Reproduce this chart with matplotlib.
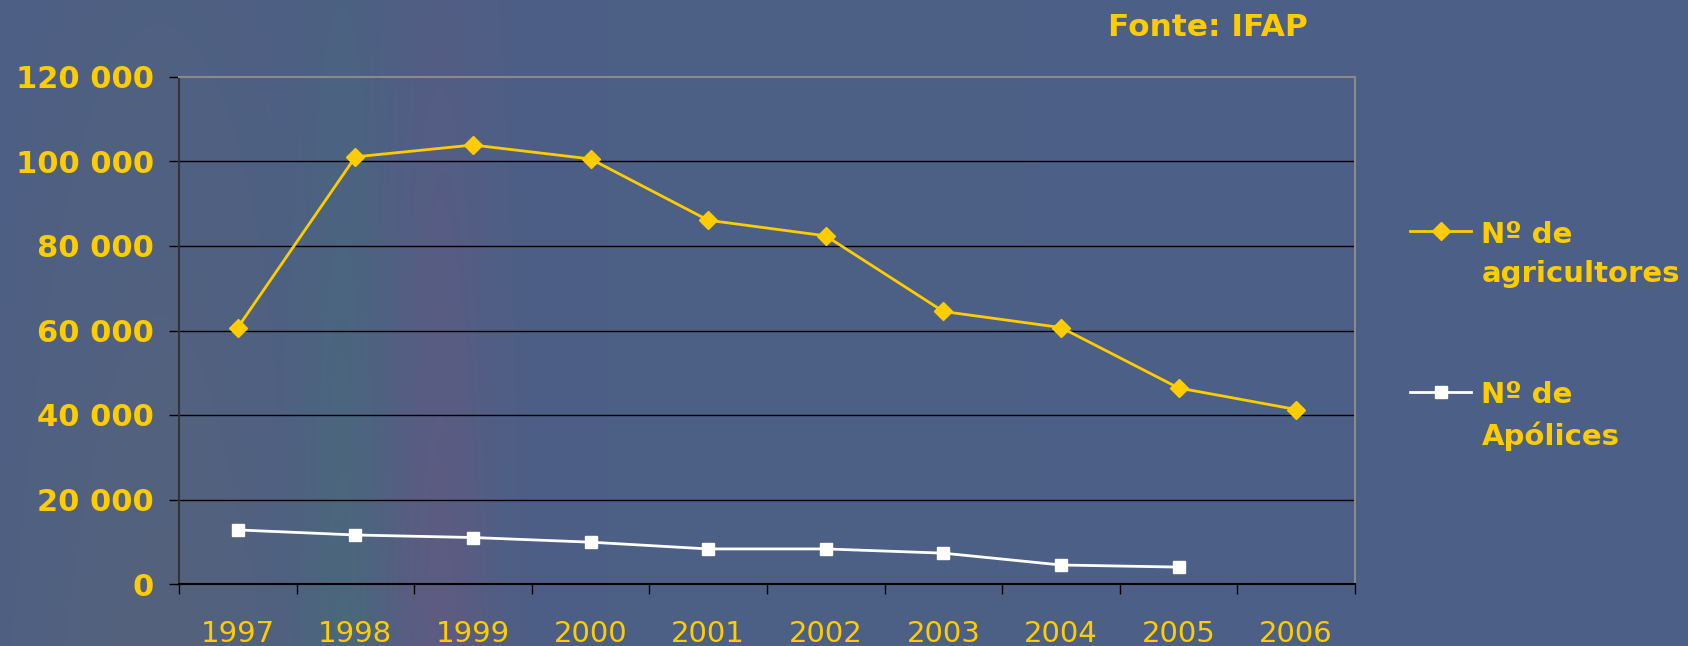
import numpy as np
import matplotlib.pyplot as plt

# data
years = ['1997', '1998', '1999', '2000', '2001', '2002', '2003', '2004', '2005', '2006']
agricultores = [60700, 101100, 103900, 100600, 86100, 82400, 64500, 60700, 46400, 41300]
apolices = [12800, 11600, 11000, 9900, 8300, 8300, 7300, 4500, 4000]
y_ticks = [0, 20000, 40000, 60000, 80000, 100000, 120000]
y_labels = ['0', '20 000', '40 000', '60 000', '80 000', '100 000', '120 000']

yellow = '#FFCC00'

W, H = 1688, 646
fig = plt.figure(figsize=(W / 100, H / 100), dpi=100)

# slide background: blue-grey with a faint rainbow band on the left
xx = np.arange(W)[None, :]
yy = np.linspace(0.35, 1.0, H)[:, None]
bg = np.zeros((H, W, 3))
bg[..., 0] = 76
bg[..., 1] = 95
bg[..., 2] = 134
green = np.exp(-((xx - 345) / 45.0) ** 2) * yy
pink = np.exp(-((xx - 440) / 55.0) ** 2) * yy
grey = np.exp(-((xx - 160) / 150.0) ** 2) * yy
bg[..., 0] += -3 * green + 18 * pink + 8 * grey
bg[..., 1] += 8 * green - 4 * pink + 3 * grey
bg[..., 2] += -8 * green - 4 * pink - 10 * grey
bg_ax = fig.add_axes([0, 0, 1, 1])
bg_ax.imshow(np.clip(bg, 0, 255).astype(np.uint8), aspect='auto')
bg_ax.axis('off')

ax = fig.add_axes([179 / W, (H - 584) / H, (1355 - 179) / W, (584 - 77) / H])
ax.patch.set_alpha(0)

x = np.arange(len(years))
ax.plot(x, agricultores, color=yellow, lw=2, marker='D', ms=9.5,
        mec=yellow, mfc=yellow, label='Nº de\nagricultores', zorder=4)
ax.plot(x[:len(apolices)], apolices, color='white', lw=2, marker='s', ms=9,
        mec='white', mfc='white', label='Nº de\nApólices', zorder=4)

ax.set_xlim(-0.5, len(years) - 0.5)
ax.set_ylim(0, 120000)
ax.set_yticks(y_ticks)
ax.set_yticklabels(y_labels, color=yellow, fontsize=22, fontweight='bold')
ax.set_xticks(x)
ax.set_xticklabels(years, color=yellow, fontsize=21)
ax.set_xticks(np.arange(len(years) + 1) - 0.5, minor=True)
ax.tick_params(axis='x', which='major', length=0, pad=26)
ax.tick_params(axis='x', which='minor', length=7, color='black', width=1)
ax.tick_params(axis='y', length=7, color='black', width=1, pad=11)

for v in y_ticks[1:-1]:
    ax.axhline(v, color='black', lw=1, zorder=1)

ax.spines['top'].set_color('#8a8a8a')
ax.spines['right'].set_color('#8a8a8a')
ax.spines['left'].set_color('#333333')
ax.spines['bottom'].set_color('black')
for s in ax.spines.values():
    s.set_linewidth(1.5)

leg = fig.legend(loc='upper left', bbox_to_anchor=(1410 / W, 1 - 221 / H),
                 frameon=False, borderpad=0, borderaxespad=0,
                 handlelength=2.1, handletextpad=0.35, labelspacing=3.2,
                 prop={'size': 21, 'weight': 'bold'})
for t in leg.get_texts():
    t.set_color(yellow)
    t.set_linespacing(1.5)
# handle next to the first line of each label
for row in leg._legend_handle_box.get_children()[0].get_children():
    row.align = 'top'

fig.text(1108 / W, 1 - 27 / H, 'Fonte: IFAP', color=yellow, fontsize=22.5,
         fontweight='bold', ha='left', va='center')

fig.savefig('out.png', dpi=100)
